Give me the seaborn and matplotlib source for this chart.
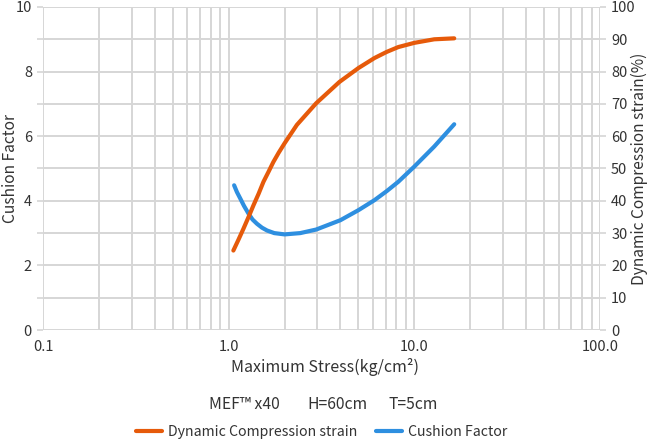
import matplotlib
matplotlib.use("Agg")
import matplotlib.pyplot as plt
import seaborn as sns
import pandas as pd
from matplotlib.ticker import FixedLocator, NullFormatter, FixedFormatter

# ---- data ----
strain_x = [1.06, 1.13, 1.20, 1.28, 1.36, 1.45, 1.54, 1.64, 1.74, 1.86, 2.0, 2.33, 2.96, 3.95,
            5.0, 6.1, 7.1, 8.2, 10.0, 12.8, 16.4]
strain_y = [24.6, 28.0, 31.3, 35.0, 38.6, 42.2, 45.9, 49.0, 52.0, 54.9, 57.8, 63.5, 70.2, 76.8,
            81.1, 84.2, 86.1, 87.6, 88.9, 90.0, 90.3]

cushion_x = [1.07, 1.108, 1.155, 1.21, 1.28, 1.345, 1.42, 1.51, 1.61, 1.76, 2.0, 2.43, 2.96,
             4.0, 5.0, 6.1, 7.1, 8.2, 10.0, 12.8, 16.4]
cushion_y = [4.48, 4.27, 4.07, 3.84, 3.60, 3.42, 3.29, 3.17, 3.08, 3.00, 2.96, 3.00, 3.11,
             3.40, 3.71, 4.02, 4.30, 4.59, 5.06, 5.68, 6.37]

x_major = [0.1, 1.0, 10.0, 100.0]
x_major_labels = ["0.1", "1.0", "10.0", "100.0"]
left_ticks = [0, 2, 4, 6, 8, 10]
right_ticks = list(range(0, 101, 10))

subtitle_parts = ["MEF\u2122 x40", "H=60cm", "T=5cm"]
strain_label = "Dynamic Compression strain"
cushion_label = "Cushion Factor"

ORANGE = "#E65A0A"
BLUE = "#2E8FE0"
GRID = "#d6d6d6"
TEXT = "#333333"

sns.set_theme(style="white")
plt.rcParams['font.family'] = ['Noto Sans CJK JP', 'DejaVu Sans']
plt.rcParams['text.color'] = TEXT
plt.rcParams['axes.labelcolor'] = TEXT
plt.rcParams['xtick.color'] = TEXT
plt.rcParams['ytick.color'] = TEXT

fig = plt.figure(figsize=(6.5, 4.4), dpi=100)
ax = fig.add_axes([43/650, 1 - 330/440, (600-43)/650, (330-7)/440])
ax2 = ax.twinx()

df_c = pd.DataFrame({"x": cushion_x, "y": cushion_y})
df_s = pd.DataFrame({"x": strain_x, "y": strain_y})

sns.lineplot(data=df_c, x="x", y="y", ax=ax, color=BLUE, linewidth=3, sort=False,
             label=cushion_label, legend=False, solid_capstyle="round", solid_joinstyle="round")
sns.lineplot(data=df_s, x="x", y="y", ax=ax2, color=ORANGE, linewidth=3, sort=False,
             label=strain_label, legend=False, solid_capstyle="round", solid_joinstyle="round")

for a in (ax, ax2):
    a.set_xscale("log")
    a.set_xlim(0.1, 100)
    for s in a.spines.values():
        s.set_visible(False)

ax.set_ylim(0, 10)
ax2.set_ylim(0, 100)

minor = [m * 10.0**e for e in (-1, 0, 1) for m in range(2, 10)]
ax.xaxis.set_major_locator(FixedLocator(x_major))
ax.xaxis.set_major_formatter(FixedFormatter(x_major_labels))
ax.xaxis.set_minor_locator(FixedLocator(minor))
ax.xaxis.set_minor_formatter(NullFormatter())
ax.yaxis.set_major_locator(FixedLocator(left_ticks))
ax.yaxis.set_minor_locator(FixedLocator([1, 3, 5, 7, 9]))
ax2.yaxis.set_major_locator(FixedLocator(right_ticks))

ax.grid(True, which="both", axis="x", color=GRID, linewidth=1.4)
ax.grid(True, which="both", axis="y", color=GRID, linewidth=1.4)
ax2.grid(False)
ax.set_axisbelow(True)

ax.tick_params(axis="x", which="both", length=4, width=1.2, color=GRID, labelsize=10.5, pad=3)
ax.tick_params(axis="y", which="both", length=4, width=1.2, color=GRID, labelsize=10.5, pad=4)
ax2.tick_params(axis="y", length=4, width=1.2, color=GRID, labelsize=10.5, pad=4)

ax.set_xlabel("Maximum Stress(kg/cm\u00b2)", fontsize=11.5)
ax.xaxis.set_label_coords((325 - 43) / 557, -(358 - 330) / 323)
ax.set_ylabel(cushion_label, fontsize=11.2)
ax2.set_ylabel("Dynamic Compression strain(%)", fontsize=11.2)
ax.yaxis.set_label_coords((19 - 43) / 557, 0.5)
ax2.yaxis.set_label_coords((631 - 43) / 557, 0.5)

for txt, cx in zip(subtitle_parts, [244, 337.5, 413]):
    fig.text(cx/650, 1 - 404/440, txt, ha="center", va="center", fontsize=11.3, color=TEXT)

h2, l2 = ax2.get_legend_handles_labels()
h1, l1 = ax.get_legend_handles_labels()
fig.legend(h2 + h1, l2 + l1, loc="center", bbox_to_anchor=(322/650, 1 - 432/440),
           ncol=2, frameon=False, fontsize=10.2, handlelength=1.83, columnspacing=1.34,
           handletextpad=0.42, borderaxespad=0, borderpad=0)

fig.savefig("out.png", dpi=100)
